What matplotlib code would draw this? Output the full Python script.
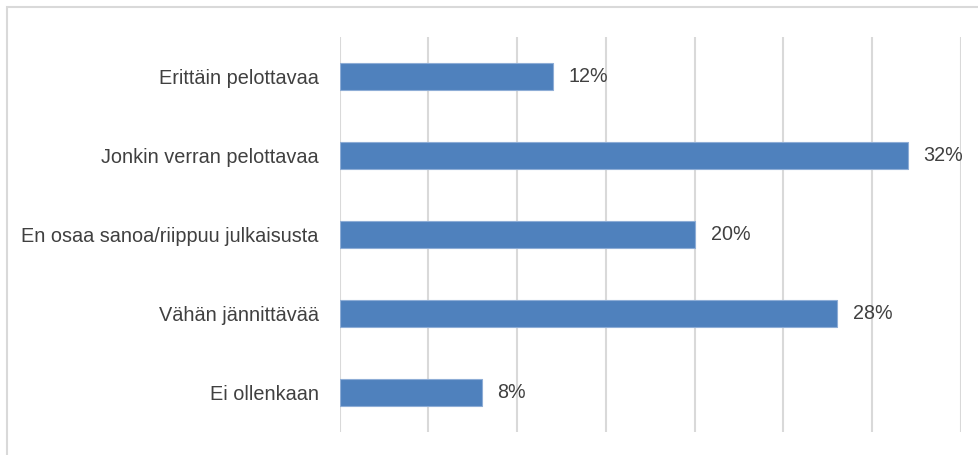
import matplotlib
matplotlib.use("Agg")
import matplotlib.pyplot as plt
from matplotlib.patches import Rectangle

categories = ["Erittäin pelottavaa", "Jonkin verran pelottavaa",
              "En osaa sanoa/riippuu julkaisusta", "Vähän jännittävää",
              "Ei ollenkaan"]
values = [12, 32, 20, 28, 8]

plt.rcParams["font.family"] = ["Liberation Sans", "DejaVu Sans"]

fig = plt.figure(figsize=(9.79, 4.55), dpi=100)
ax = fig.add_axes([0.3468, 0.0505, 0.6348, 0.8681])

# outer chart border (only top and left fall inside the image)
fig.add_artist(Rectangle((7 / 979, -0.1), 1.2, 1.1 - 7 / 455,
                         transform=fig.transFigure, fill=False,
                         edgecolor="#D9D9D9", linewidth=1.5))

y = list(range(len(categories)))
ax.barh(y, values, height=0.35, color="#4F81BD", edgecolor="#8EADD6",
        linewidth=0.8, zorder=3)

for yi, v in zip(y, values):
    ax.text(v + 0.9, yi, f"{v}%", va="center", ha="left",
            fontsize=14.2, color="#404040")

ax.set_xlim(0, 35)
ax.set_ylim(len(categories) - 0.5, -0.5)
ax.set_xticks(range(0, 36, 5))
ax.xaxis.grid(True, color="#D9D9D9", linewidth=1.5, zorder=0)
ax.tick_params(axis="x", length=0, labelbottom=False)
ax.tick_params(axis="y", length=0, pad=15, labelsize=14.3, labelcolor="#404040")
ax.set_yticks(y)
ax.set_yticklabels(categories)
for s in ax.spines.values():
    s.set_visible(False)

fig.savefig("out.png", dpi=100)
